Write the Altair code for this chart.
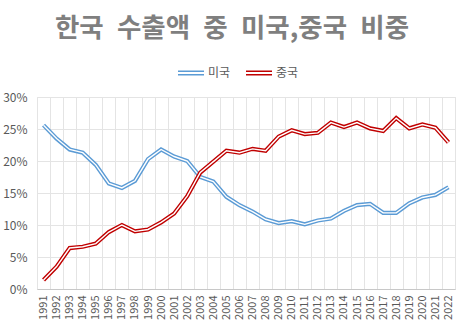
import altair as alt
import pandas as pd

years = list(range(1991, 2023))
us = [25.6, 23.5, 21.8, 21.3, 19.4, 16.5, 15.8, 16.9, 20.3, 21.8, 20.7, 20.0, 17.5, 16.8,
      14.4, 13.1, 12.1, 10.9, 10.3, 10.6, 10.1, 10.7, 11.0, 12.2, 13.1, 13.3, 11.9, 11.9,
      13.4, 14.3, 14.7, 15.9]
china = [1.4, 3.5, 6.4, 6.6, 7.1, 8.9, 10.0, 9.0, 9.3, 10.4, 11.8, 14.5, 18.2, 19.9,
         21.6, 21.3, 21.9, 21.6, 23.8, 24.8, 24.2, 24.4, 26.0, 25.3, 26.0, 25.1, 24.7, 26.7,
         25.1, 25.7, 25.2, 22.9]
series = ["미국", "중국"]
colors = ["#5B9BD5", "#C00000"]
y_ticks = [0, 0.05, 0.10, 0.15, 0.20, 0.25, 0.30]
title_text = "한국\u2002수출액\u2002중\u2002미국,중국\u2002비중"

rows = []
for name, vals in zip(series, [us, china]):
    for yr, v in zip(years, vals):
        rows.append({"year": str(yr), "series": name, "share": v / 100})
df = pd.DataFrame(rows)

FONT = "Noto Sans CJK KR"
GRID = "#E4E4E4"

x_enc = alt.X(
    "year:O",
    scale=alt.Scale(type="band", paddingInner=0, paddingOuter=0),
    bandPosition=0.5,
    axis=alt.Axis(
        title=None, labelAngle=-90, tickBand="extent", grid=True, gridColor=GRID,
        ticks=False, domainColor="#C8C8C8", labelColor="#595959", labelFontSize=11,
        labelPadding=6, labelFont=FONT, labelBaseline="middle", labelAlign="right",
    ),
)
y_enc = alt.Y(
    "share:Q",
    scale=alt.Scale(domain=[0, 0.3], nice=False),
    axis=alt.Axis(
        title=None, format=".0%", values=y_ticks, domain=False, ticks=False,
        gridColor=GRID, labelColor="#595959", labelFontSize=12, labelPadding=10,
        labelFont=FONT,
    ),
)

base = alt.Chart(df).encode(x=x_enc, y=y_enc)

layers = []
for i, s in enumerate(series):
    thick = base.transform_filter(alt.datum.series == s).mark_line(strokeWidth=4.2).encode(
        color=alt.Color(
            "series:N",
            scale=alt.Scale(domain=series, range=colors),
            legend=alt.Legend(
                title=None, orient="none", legendX=140, legendY=-38, direction="horizontal",
                symbolType="M-1,-0.13H1M-1,0.13H1", symbolSize=676, symbolStrokeWidth=1.4,
                labelFontSize=12, labelColor="#595959", labelFont=FONT, labelOffset=3,
                columnPadding=12,
            ),
        )
    )
    thin = base.transform_filter(alt.datum.series == s).mark_line(
        strokeWidth=1.4, color="white"
    )
    layers += [thick, thin]

chart = alt.layer(*layers).properties(
    width=418,
    height=192,
    autosize="none",
    padding={"left": 37, "top": 97, "right": 14, "bottom": 41},
    title=alt.TitleParams(
        title_text, font=FONT, fontSize=26.5, fontWeight="bold",
        color="#7F7F7F", anchor="middle", dx=-14, offset=17,
    ),
).configure_view(stroke=GRID).configure(background="white")

chart.save("out.html", embed_options={"renderer": "svg", "actions": False})
